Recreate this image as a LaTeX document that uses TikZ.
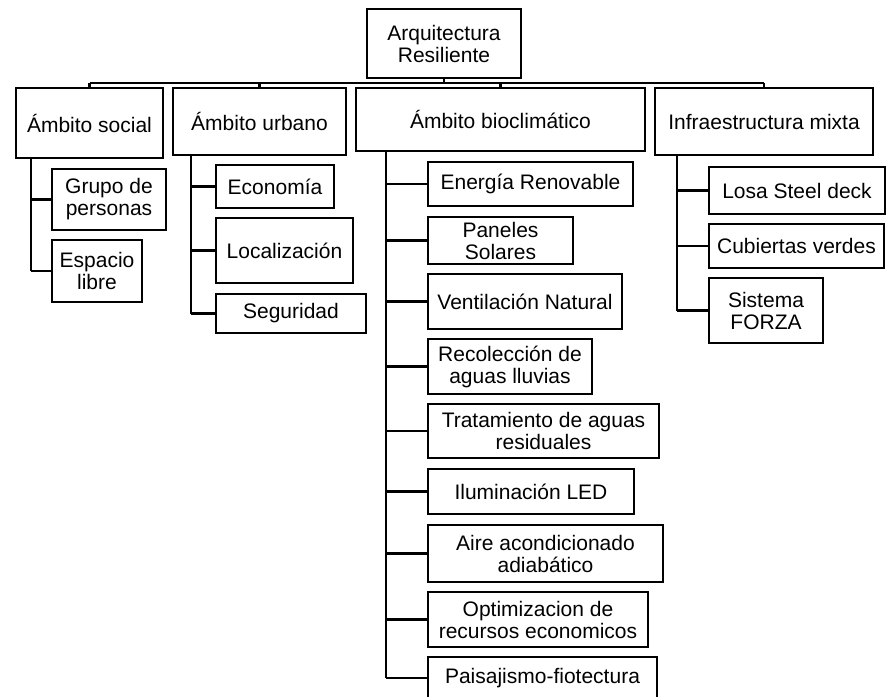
\documentclass[tikz,border=0pt]{standalone}
\usepackage{fontspec}
\setmainfont{Liberation Sans}
\begin{document}
\begin{tikzpicture}[x=1pt,y=-1pt,
  box/.style={draw, line width=2.3pt, inner sep=0pt, align=center,
    font=\fontsize{21}{22}\selectfont},
  conn/.style={line width=2.3pt},
  trunk/.style={line width=2.8pt}]
\clip (0,0) rectangle (886,696);
\useasboundingbox (0,0) rectangle (886,696);
% level 0
\node[box, minimum width=154, minimum height=69] (root) at (444,43.5) {Arquitectura\\Resiliente};
% level 1
\node[box, minimum width=147, minimum height=70] (social) at (89.5,123) {Ámbito social};
\node[box, minimum width=173, minimum height=67] (urbano) at (259.5,121.5) {Ámbito urbano};
\node[box, minimum width=289, minimum height=63] (bio) at (500.5,119.5) {Ámbito bioclimático};
\node[box, minimum width=218, minimum height=67] (infra) at (764,121.5) {Infraestructura mixta};
% social
\node[box, minimum width=114, minimum height=61] (grupo) at (109,199.5) {Grupo de\\personas};
\node[box, minimum width=90, minimum height=62] (espacio) at (97,271) {Espacio\\libre};
% urbano
\node[box, minimum width=118, minimum height=43] (econ) at (275,186.5) {Economía};
\node[box, minimum width=137, minimum height=65] (local) at (284.5,250.5) {Localización};
\node[box, minimum width=150, minimum height=39] (seg) at (291,313.5) {Seguridad};
% bio
\node[box, minimum width=205, minimum height=44] (energia) at (530.5,184) {Energía Renovable};
\node[box, minimum width=145, minimum height=47] (paneles) at (500.5,240.5) {Paneles\\Solares};
\node[box, minimum width=194, minimum height=55] (vent) at (525,301.5) {Ventilación Natural};
\node[box, minimum width=164, minimum height=55] (recol) at (510,366.5) {Recolección de\\aguas lluvias};
\node[box, minimum width=231, minimum height=54] (trat) at (543.5,431) {Tratamiento de aguas\\residuales};
\node[box, minimum width=206, minimum height=45] (ilum) at (531,491.5) {Iluminación LED};
\node[box, minimum width=235, minimum height=57] (aire) at (545.5,553.5) {Aire acondicionado\\adiabático};
\node[box, minimum width=220, minimum height=55] (optim) at (538,619.5) {Optimizacion de\\recursos economicos};
\node[box, minimum width=229, minimum height=42] (paisaj) at (542.5,678) {Paisajismo-fiotectura};
% infra
\node[box, minimum width=176, minimum height=47] (losa) at (797,190.5) {Losa Steel deck};
\node[box, minimum width=175, minimum height=44] (cub) at (796.5,246) {Cubiertas verdes};
\node[box, minimum width=114, minimum height=65] (sist) at (766,310.5) {Sistema\\FORZA};
% bus
\coordinate (bus) at (0,83);
\draw[conn] (root.south) -- (root.south |- bus);
\draw[conn] (social.north |- bus) -- (infra.north |- bus);
\foreach \n in {social,urbano,bio,infra} \draw[conn] (\n.north |- bus) -- (\n.north);
% trunks
\coordinate (ts) at (31,0);
\coordinate (tu) at (191,0);
\coordinate (tb) at (386,0);
\coordinate (ti) at (677,0);
\draw[trunk] (social.south -| ts) -- (espacio.west -| ts);
\foreach \n in {grupo,espacio} \draw[conn] (\n.west -| ts) -- (\n.west);
\draw[trunk] (urbano.south -| tu) -- (seg.west -| tu);
\foreach \n in {econ,local,seg} \draw[conn] (\n.west -| tu) -- (\n.west);
\draw[trunk] (bio.south -| tb) -- (paisaj.west -| tb);
\foreach \n in {energia,paneles,vent,recol,trat,ilum,aire,optim,paisaj} \draw[conn] (\n.west -| tb) -- (\n.west);
\draw[trunk] (infra.south -| ti) -- (sist.west -| ti);
\foreach \n in {losa,cub,sist} \draw[conn] (\n.west -| ti) -- (\n.west);
\end{tikzpicture}
\end{document}
